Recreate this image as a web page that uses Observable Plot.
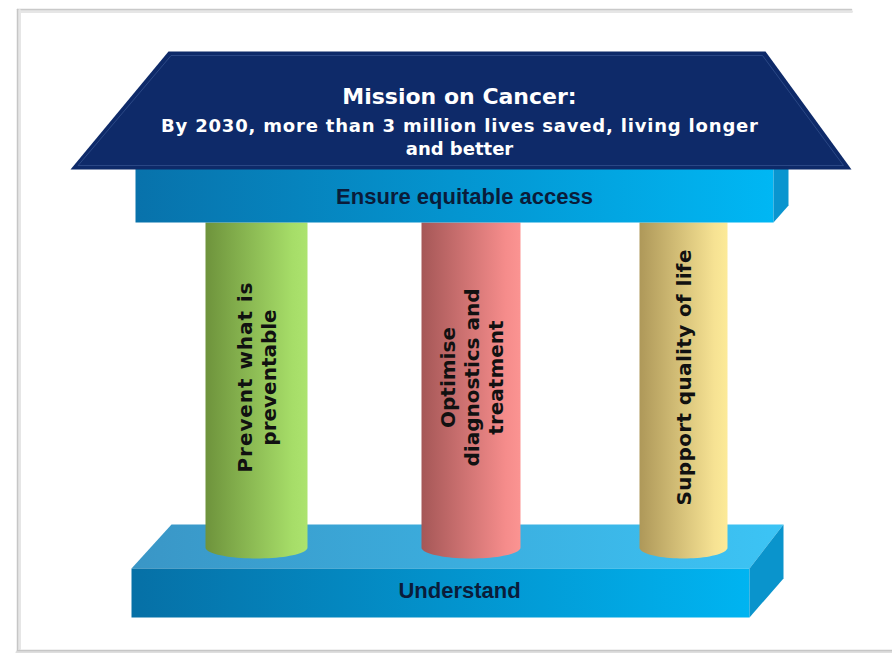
<!DOCTYPE html>
<html>
<head>
<meta charset="utf-8">
<script src="https://cdn.jsdelivr.net/npm/d3@7"></script>
<script src="https://cdn.jsdelivr.net/npm/@observablehq/plot@0.6"></script>
<style>
  html, body { margin: 0; padding: 0; background: #fff; }
</style>
</head>
<body>
<div id="chart"></div>
<script>
// ---- content ----
const roofTitle = ["Mission on Cancer:"];
const roofSubtitle = ["By 2030, more than 3 million lives saved, living longer", "and better"];
const beamLabel = ["Ensure equitable access"];
const baseLabel = ["Understand"];
const pillarLabels = ["Prevent what is\npreventable", "Optimise\ndiagnostics and\ntreatment", "Support quality of life"];
const pillarGradients = ["gGreen", "gRed", "gYellow"];
// reference line widths (wide, justified-looking word gaps)
const stretchedLines = [
  ["By 2030, more than 3 million lives saved, living longer", 597],
  ["Prevent what is", 190],
  ["Support quality of life", 256]
];

// ---- layout (pixel space of the 892x653 drawing) ----
const pillarLeft = [205, 421, 639];
const pillarRight = [307, 520, 727];
const pillarTop = 222, pillarFoot = 547, pillarRy = 11;

const roof = [[168, 51], [765, 51], [851, 169], [70, 169]];
const roofBevel = [[171, 55], [762, 55], [843, 165], [78, 165]];
const beamFront = [[135, 166], [773, 166], [773, 222], [135, 222]];
const beamSide = [[773, 166], [788, 166], [788, 205], [773, 222]];
const baseTop = [[171, 524], [783, 524], [749, 568], [131, 568]];
const baseFront = [[131, 568], [749, 568], [749, 617], [131, 617]];
const baseSide = [[749, 568], [783, 524], [783, 578], [749, 617]];

function pillarOutline(x0, x1) {
  const cx = (x0 + x1) / 2, rx = (x1 - x0) / 2;
  const pts = [[x0, pillarTop], [x0, pillarFoot]];
  const n = 40;
  for (let i = 0; i <= n; i++) {
    const a = Math.PI - Math.PI * i / n;
    pts.push([cx + rx * Math.cos(a), pillarFoot + pillarRy * Math.sin(a)]);
  }
  pts.push([x1, pillarTop]);
  return pts;
}

const defs = () => {
  const d = document.createElementNS("http://www.w3.org/2000/svg", "defs");
  d.innerHTML = `
    <linearGradient id="gBeam" x1="0" x2="1" y1="0" y2="0">
      <stop offset="0" stop-color="#0872ab"/><stop offset="1" stop-color="#00b7f4"/></linearGradient>
    <linearGradient id="gBaseTop" x1="0" x2="1" y1="0" y2="0">
      <stop offset="0" stop-color="#3a96c6"/><stop offset="1" stop-color="#3cc4f5"/></linearGradient>
    <linearGradient id="gBaseFront" x1="0" x2="1" y1="0" y2="0">
      <stop offset="0" stop-color="#0670a6"/><stop offset="1" stop-color="#00b4f1"/></linearGradient>
    <linearGradient id="gGreen" x1="0" x2="1" y1="0" y2="0">
      <stop offset="0" stop-color="#6e933c"/><stop offset="0.85" stop-color="#a6dd68"/><stop offset="1" stop-color="#ace36e"/></linearGradient>
    <linearGradient id="gRed" x1="0" x2="1" y1="0" y2="0">
      <stop offset="0" stop-color="#a55757"/><stop offset="0.85" stop-color="#f58c8b"/><stop offset="1" stop-color="#fb9492"/></linearGradient>
    <linearGradient id="gYellow" x1="0" x2="1" y1="0" y2="0">
      <stop offset="0" stop-color="#ae9859"/><stop offset="0.85" stop-color="#f6e293"/><stop offset="1" stop-color="#fcea98"/></linearGradient>
  `;
  return d;
};

const poly = (pts, fill, extra = {}) =>
  Plot.line(pts, {x: d => d[0], y: d => d[1], fill, stroke: "none", curve: "linear-closed", ...extra});

const pillarMarks = pillarLeft.map((x0, i) =>
  poly(pillarOutline(x0, pillarRight[i]), `url(#${pillarGradients[i]})`));

const pillarText = pillarLabels.map((t, i) => ({t, x: (pillarLeft[i] + pillarRight[i]) / 2, y: 377}));

const chart = Plot.plot({
  width: 892,
  height: 653,
  margin: 0,
  x: {domain: [0, 892], axis: null},
  y: {domain: [0, 653], reverse: true, axis: null},
  style: {background: "#fff"},
  marks: [
    defs,
    // frame
    Plot.line([[18, 11], [851, 11]], {x: d => d[0], y: d => d[1], stroke: "#e6e6e6", strokeWidth: 3}),
    Plot.line([[17, 9], [851, 9]], {x: d => d[0], y: d => d[1], stroke: "#c9c9c9", strokeWidth: 1.5}),
    Plot.line([[19, 10], [19, 648]], {x: d => d[0], y: d => d[1], stroke: "#e6e6e6", strokeWidth: 3}),
    Plot.line([[17, 9], [17, 650]], {x: d => d[0], y: d => d[1], stroke: "#c6c6c6", strokeWidth: 1.5}),
    Plot.line([[17, 652], [892, 652]], {x: d => d[0], y: d => d[1], stroke: "#dedede", strokeWidth: 4}),
    Plot.line([[17, 650], [892, 650]], {x: d => d[0], y: d => d[1], stroke: "#c6c6c6", strokeWidth: 1.5}),
    // base
    poly(baseTop, "url(#gBaseTop)"),
    poly(baseFront, "url(#gBaseFront)"),
    poly(baseSide, "#0a94cc"),
    // pillars
    ...pillarMarks,
    // beam
    poly(beamFront, "url(#gBeam)"),
    poly(beamSide, "#0a95cf"),
    // roof
    poly(roof, "#0e2a69"),
    poly(roofBevel, "none", {stroke: "#3d5b98", strokeWidth: 1, strokeOpacity: 0.6}),
    // texts
    Plot.text(roofTitle, {x: () => 459, y: () => 96, text: d => d, fill: "#fff",
      fontFamily: "DejaVu Sans", fontWeight: "bold", fontSize: 22}),
    Plot.text(roofSubtitle, {x: () => 459, y: (d, i) => 126 + i * 23, text: d => d, fill: "#fff",
      fontFamily: "DejaVu Sans", fontWeight: "bold", fontSize: 18}),
    Plot.text(beamLabel, {x: () => 464, y: () => 196, text: d => d, fill: "#0a1c3a",
      fontFamily: "Liberation Sans", fontWeight: "bold", fontSize: 22}),
    Plot.text(baseLabel, {x: () => 459, y: () => 590, text: d => d, fill: "#0a1c3a",
      fontFamily: "Liberation Sans", fontWeight: "bold", fontSize: 22}),
    Plot.text(pillarText, {x: "x", y: "y", text: "t", rotate: -90, fill: "#111",
      fontFamily: "DejaVu Sans", fontWeight: "bold", fontSize: 20, lineHeight: 1.2})
  ]
});
// stretch a few lines to the reference's wide word spacing
const svgSel = d3.select(chart.tagName.toLowerCase() === "svg" ? chart : chart.querySelector("svg"));
stretchedLines.forEach(([line, len]) => {
  svgSel.selectAll("text, tspan")
    .filter(function () { return this.childElementCount === 0 && this.textContent === line; })
    .attr("textLength", len)
    .attr("lengthAdjust", "spacing");
});
document.getElementById("chart").appendChild(chart);
</script>
</body>
</html>
